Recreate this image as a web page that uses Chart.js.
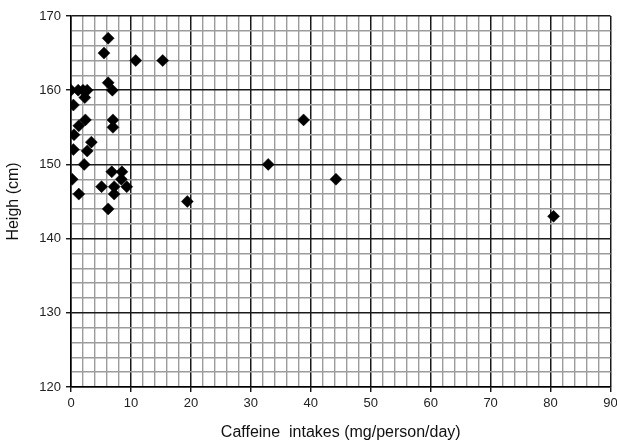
<!DOCTYPE html>
<html>
<head>
<meta charset="utf-8">
<script src="https://cdn.jsdelivr.net/npm/chart.js@4/dist/chart.umd.min.js"></script>
<style>
html,body{margin:0;padding:0;background:#fff;overflow:hidden;}
#wrap{width:617px;height:445px;position:relative;}
</style>
</head>
<body>
<div id="wrap"><canvas id="c"></canvas></div>
<script>
const caffeine = [6.2,5.5,10.8,15.3,6.2,6.9,0.0,1.2,2.0,2.7,2.3,0.4,2.4,7.0,7.0,1.3,0.5,0.4,2.7,3.4,2.2,0.2,1.3,6.8,8.5,8.4,5.1,7.2,7.2,9.3,6.2,19.4,32.9,44.2,38.8,80.5];
const height   = [167,165,164,164,161,160,160,160,160,160,159,158,156,156,155,155.2,154,152,151.8,153,150,148,146,149,149,148,147,147,146,147,144,145,150,148,156,143];
const xTicks = [0,10,20,30,40,50,60,70,80,90];
const yTicks = [120,130,140,150,160,170];

const points = caffeine.map((v,i)=>({x:v,y:height[i]}));
const isMajor = v => Math.abs(v % 10) < 1e-6;
const gridColor = ctx => (ctx.tick && isMajor(ctx.tick.value)) ? '#1a1a1a' : '#9c9c9c';
const gridWidth = ctx => (ctx.tick && isMajor(ctx.tick.value)) ? 1.5 : 1.4;
const tickColor = ctx => (ctx.tick && isMajor(ctx.tick.value)) ? '#000' : 'rgba(0,0,0,0)';

new Chart(document.getElementById('c'), {
  type: 'scatter',
  data: {
    datasets: [{
      data: points,
      pointStyle: 'rectRot',
      pointRadius: 6,
      pointHoverRadius: 6,
      backgroundColor: '#000',
      borderColor: '#000',
      borderWidth: 0.5
    }]
  },
  options: {
    responsive: true,
    maintainAspectRatio: false,
    animation: false,
    events: [],
    layout: { padding: { top: 16, right: 6, left: 0, bottom: 0 } },
    plugins: { legend: { display: false }, tooltip: { enabled: false } },
    scales: {
      x: {
        type: 'linear',
        min: 0, max: 90,
        afterBuildTicks: s => { const t=[]; for(let v=0; v<=90; v+=2) t.push({value:v}); s.ticks=t; },
        afterFit: s => { s.height = 58; s.paddingRight = 0; s.paddingLeft = 0; },
        ticks: {
          autoSkip: false, maxRotation: 0, padding: 4,
          color: '#222',
          font: { family: 'Liberation Sans', size: 13 },
          callback: v => xTicks.includes(v) ? String(v) : ''
        },
        grid: { color: gridColor, lineWidth: gridWidth, tickLength: 5, tickColor: tickColor, tickWidth: 1.3 },
        border: { color: '#000', width: 1.5 },
        title: {
          display: true,
          text: 'Caffeine  intakes (mg/person/day)',
          color: '#111',
          font: { family: 'Liberation Sans', size: 16 },
          padding: { top: 0, bottom: 3 }
        }
      },
      y: {
        type: 'linear',
        min: 120, max: 170,
        afterBuildTicks: s => { const t=[]; for(let v=120; v<=170; v+=2) t.push({value:v}); s.ticks=t; },
        afterFit: s => { s.width = 71; },
        ticks: {
          autoSkip: false, padding: 5,
          color: '#222',
          font: { family: 'Liberation Sans', size: 13 },
          callback: v => yTicks.includes(v) ? String(v) : ''
        },
        grid: { color: gridColor, lineWidth: gridWidth, tickLength: 5, tickColor: tickColor, tickWidth: 1.3 },
        border: { color: '#000', width: 1.5 },
        title: {
          display: true,
          text: 'Heigh (cm)',
          color: '#111',
          font: { family: 'Liberation Sans', size: 16 },
          padding: { top: 4, bottom: 0 }
        }
      }
    }
  }
});
</script>
</body>
</html>
